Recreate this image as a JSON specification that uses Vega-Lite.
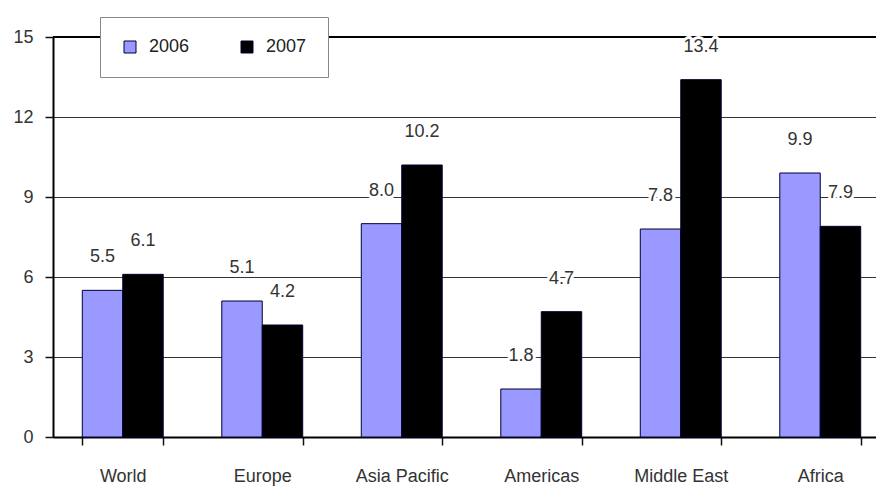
{
  "$schema": "https://vega.github.io/schema/vega-lite/v6.json",
  "width": 823,
  "height": 400,
  "autosize": {"type": "none"},
  "padding": {"left": 53, "top": 37, "right": 0, "bottom": 49},
  "background": "white",
  "config": {
    "view": {"stroke": null},
    "font": "Liberation Sans",
    "axis": {"labelFont": "Liberation Sans", "labelColor": "#333333", "labelFontSize": 18, "title": null, "ticks": true, "tickOpacity": 1}
  },
  "data": {
    "values": [
      {"region": "World", "year": "2006", "value": 5.5},
      {"region": "World", "year": "2007", "value": 6.1},
      {"region": "Europe", "year": "2006", "value": 5.1},
      {"region": "Europe", "year": "2007", "value": 4.2},
      {"region": "Asia Pacific", "year": "2006", "value": 8.0},
      {"region": "Asia Pacific", "year": "2007", "value": 10.2},
      {"region": "Americas", "year": "2006", "value": 1.8},
      {"region": "Americas", "year": "2007", "value": 4.7},
      {"region": "Middle East", "year": "2006", "value": 7.8},
      {"region": "Middle East", "year": "2007", "value": 13.4},
      {"region": "Africa", "year": "2006", "value": 9.9},
      {"region": "Africa", "year": "2007", "value": 7.9}
    ]
  },
  "encoding": {
    "x": {
      "field": "region",
      "type": "nominal",
      "sort": ["World", "Europe", "Asia Pacific", "Americas", "Middle East", "Africa"],
      "scale": {"range": [0, 837], "paddingInner": 0.42, "paddingOuter": 0.21},
      "axis": {
        "labelAngle": 0,
        "ticks": true,
        "tickBand": "extent",
        "tickSize": 8,
        "tickWidth": 1.5,
        "tickColor": "#111111",
        "tickOpacity": 1,
        "labelPadding": 22,
        "domainColor": "#000000",
        "domainWidth": 2,
        "grid": false
      }
    },
    "xOffset": {"field": "year", "type": "nominal", "scale": {"paddingInner": 0, "paddingOuter": 0}},
    "y": {
      "field": "value",
      "type": "quantitative",
      "scale": {"domain": [0, 15], "nice": false},
      "axis": {
        "values": [0, 3, 6, 9, 12, 15],
        "ticks": true,
        "tickSize": 8,
        "tickWidth": 1.5,
        "tickColor": "#111111",
        "tickOpacity": 1,
        "labelPadding": 12,
        "domainColor": "#000000",
        "domainWidth": 2,
        "grid": true,
        "gridColor": "#333333",
        "gridWidth": 1
      }
    }
  },
  "layer": [
    {
      "mark": {"type": "bar", "stroke": "#000033", "strokeWidth": 1},
      "encoding": {
        "color": {
          "field": "year",
          "type": "nominal",
          "scale": {"domain": ["2006", "2007"], "range": ["#9999FF", "#000000"]},
          "legend": {
            "title": null,
            "orient": "none",
            "legendX": 47,
            "legendY": -20,
            "direction": "horizontal",
            "symbolType": "square",
            "symbolSize": 144,
            "symbolStrokeColor": "#000033",
            "symbolStrokeWidth": 1,
            "symbolOpacity": 1,
            "labelFontSize": 18,
            "labelColor": "#222222",
            "labelFont": "Liberation Sans",
            "labelOffset": 10,
            "columnPadding": 48,
            "padding": 21,
            "fillColor": "white",
            "strokeColor": "#888888"
          }
        }
      }
    },
    {
      "mark": {"type": "rule", "color": "#000000", "strokeWidth": 2},
      "encoding": {"y": {"datum": 15}, "x": null, "xOffset": null}
    },
    {
      "mark": {"type": "text", "baseline": "middle", "dy": -33, "fontSize": 18, "stroke": "white", "strokeWidth": 6, "fill": "white", "strokeJoin": "round"},
      "encoding": {"text": {"field": "value", "type": "quantitative", "format": ".1f"}}
    },
    {
      "mark": {"type": "text", "baseline": "middle", "dy": -33, "fontSize": 18, "fill": "#333333"},
      "encoding": {"text": {"field": "value", "type": "quantitative", "format": ".1f"}}
    }
  ]
}
